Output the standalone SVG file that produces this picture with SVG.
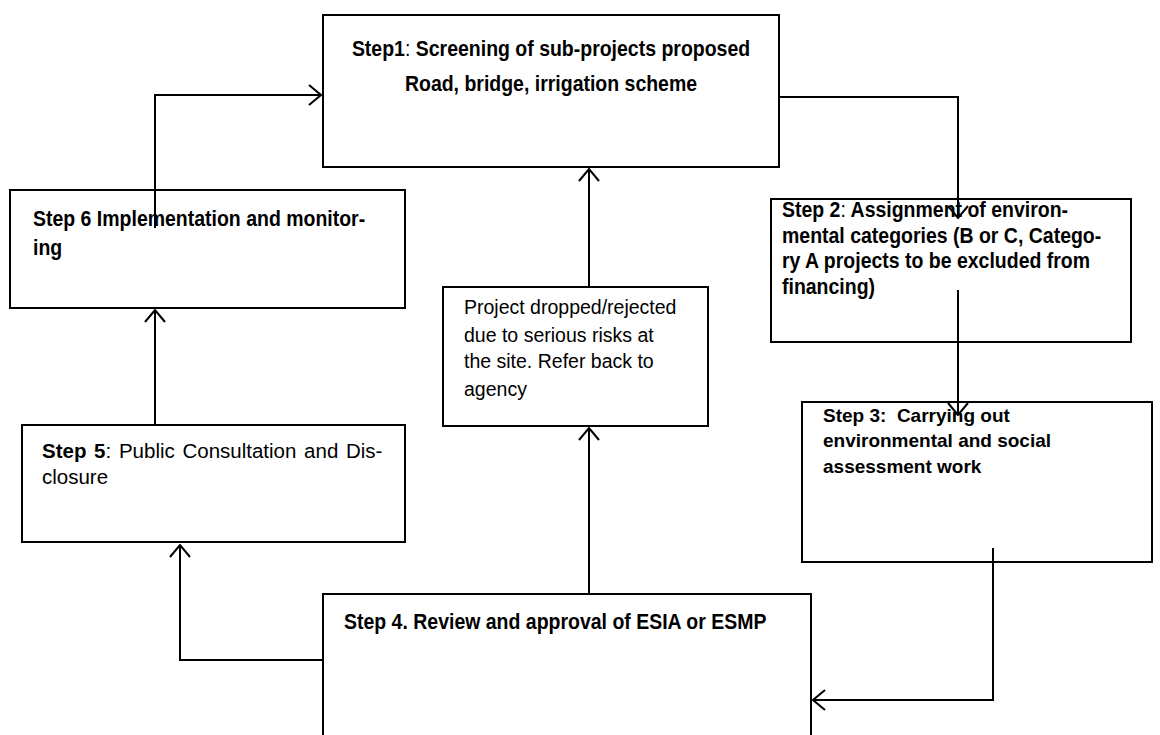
<svg xmlns="http://www.w3.org/2000/svg" width="1160" height="735" viewBox="0 0 1160 735">
<style>
.box{fill:#fff;stroke:#000;stroke-width:2}
.t{font-family:"Liberation Sans",Arial,sans-serif;font-size:19.5px;fill:#000}
.n{font-family:"Liberation Sans",Arial,sans-serif;font-size:22px;font-weight:bold;fill:#000}
.b{font-weight:bold}
.c{fill:none;stroke:#000;stroke-width:2}
</style>
<defs>
<marker id="ah" viewBox="0 0 14 22" refX="13" refY="11" markerWidth="14" markerHeight="22" markerUnits="userSpaceOnUse" orient="auto">
<path d="M1,1 L13,11 L1,21" fill="none" stroke="#000" stroke-width="2"/>
</marker>
</defs>
<rect width="1160" height="735" fill="#fff"/>
<g id="step1">
<rect class="box" x="323" y="15" width="456" height="152"/>
<g transform="translate(551,0) scale(0.886,1)">
<text class="n" x="0" y="56" text-anchor="middle">Step1<tspan font-weight="normal">:</tspan> Screening of sub-projects proposed</text>
<text class="n" x="0" y="91" text-anchor="middle">Road, bridge, irrigation scheme</text>
</g>
</g>
<g id="step6">
<rect class="box" x="10" y="190" width="395" height="118"/>
<g transform="translate(33,0) scale(0.886,1)">
<text class="n" x="0" y="226">Step 6 Implementation and monitor-</text>
<text class="n" x="0" y="255">ing</text>
</g>
</g>
<g id="step2">
<rect class="box" x="771" y="199" width="360" height="143"/>
<g transform="translate(782,0) scale(0.886,1)">
<text class="n" x="0" y="217">Step 2<tspan font-weight="normal">:</tspan> Assignment of environ-</text>
<text class="n" x="0" y="243">mental categories (B or C, Catego-</text>
<text class="n" x="0" y="268">ry A projects to be excluded from</text>
<text class="n" x="0" y="294">financing)</text>
</g>
</g>
<g id="dropped">
<rect class="box" x="443" y="287" width="265" height="139"/>
<text class="t" x="464" y="314">Project dropped/rejected</text>
<text class="t" x="464" y="342">due to serious risks at</text>
<text class="t" x="464" y="368">the site. Refer back to</text>
<text class="t" x="464" y="396">agency</text>
</g>
<g id="step3">
<rect class="box" x="802" y="402" width="350" height="160"/>
<text class="t b" x="823" y="422" style="font-size:19px;white-space:pre">Step 3:  Carrying out</text>
<text class="t b" x="823" y="447" style="font-size:19px">environmental and social</text>
<text class="t b" x="823" y="473" style="font-size:19px">assessment work</text>
</g>
<g id="step5">
<rect class="box" x="22" y="425" width="383" height="117"/>
<text class="t" x="42" y="458" style="font-size:20.5px;word-spacing:2px"><tspan font-weight="bold">Step 5</tspan>: Public Consultation and Dis-</text>
<text class="t" x="42" y="484" style="font-size:20.5px">closure</text>
</g>
<g id="step4">
<rect class="box" x="323" y="594" width="488" height="150"/>
<g transform="translate(344,0) scale(0.886,1)">
<text class="n" x="0" y="629">Step 4. Review and approval of ESIA or ESMP</text>
</g>
</g>
<g id="connectors">
<path class="c" d="M155,228 V95 H321" marker-end="url(#ah)"/>
<path class="c" d="M779,97 H958 V218" marker-end="url(#ah)"/>
<path class="c" d="M958,290 V415" marker-end="url(#ah)"/>
<path class="c" d="M993,548 V700 H813" marker-end="url(#ah)"/>
<path class="c" d="M589,594 V428" marker-end="url(#ah)"/>
<path class="c" d="M589,287 V169" marker-end="url(#ah)"/>
<path class="c" d="M323,660 H180 V545" marker-end="url(#ah)"/>
<path class="c" d="M155,425 V310" marker-end="url(#ah)"/>
</g>
</svg>
